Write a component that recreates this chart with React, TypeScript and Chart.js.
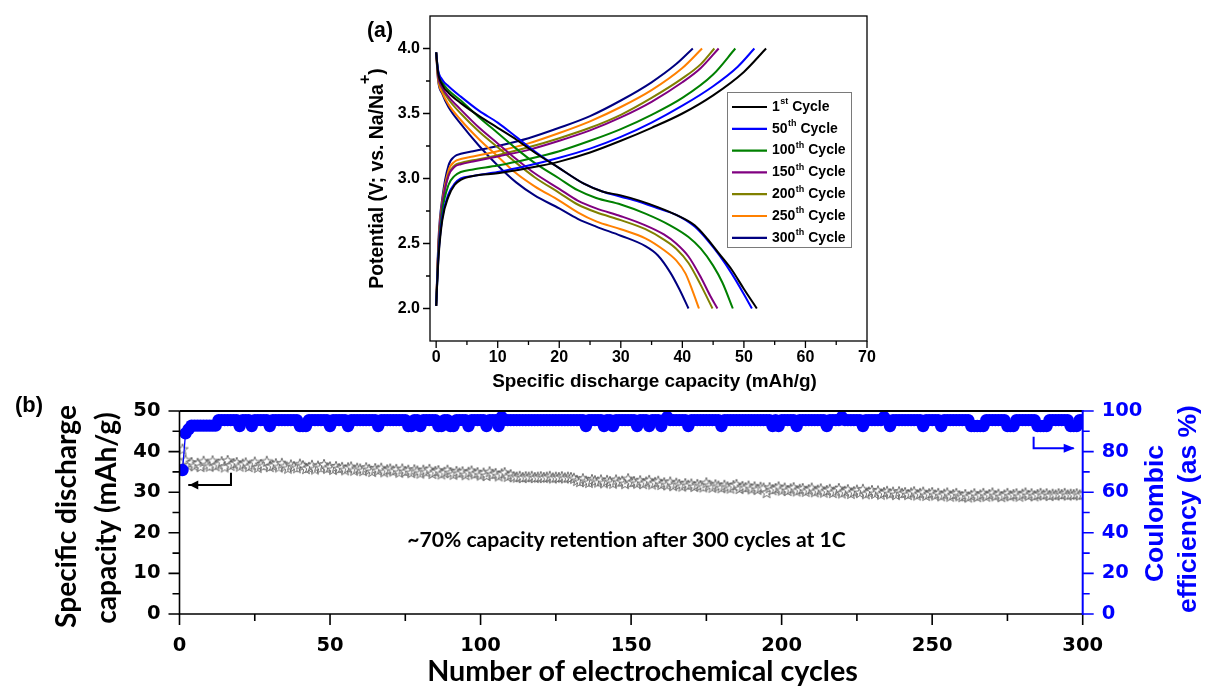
import React, { useEffect, useRef } from 'react';
import { Chart, registerables } from 'chart.js';

Chart.register(...registerables);

/* ================= Panel (a): charge / discharge profiles ================= */
const profileCycleNumbers = ['1', '50', '100', '150', '200', '250', '300'];
const profileSuffixes = ['st', 'th', 'th', 'th', 'th', 'th', 'th'];
const profileColors = ['#000000', '#0000ff', '#008000', '#800080', '#808000', '#ff8000', '#000080'];

// [specific capacity (mAh/g), potential (V)]
const charge1st = [[0, 2.02], [0.4, 2.4], [1, 2.68], [2, 2.86], [3, 2.95], [4, 2.99], [6, 3.02], [10, 3.04], [15, 3.08], [20, 3.13], [25, 3.2], [30, 3.29], [35, 3.39], [40, 3.5], [45, 3.64], [50, 3.82], [53.6, 4.0]];
const charge50th = [[0, 2.02], [0.4, 2.42], [1, 2.7], [2, 2.88], [3, 2.96], [4, 3.0], [6, 3.02], [10, 3.05], [15, 3.1], [20, 3.16], [25, 3.23], [30, 3.32], [35, 3.43], [40, 3.56], [45, 3.71], [49, 3.86], [51.7, 4.0]];
const charge100th = [[0, 2.02], [0.4, 2.45], [1, 2.75], [2, 2.95], [3, 3.02], [4, 3.05], [6, 3.07], [10, 3.1], [15, 3.15], [20, 3.21], [25, 3.29], [30, 3.38], [35, 3.49], [40, 3.62], [45, 3.8], [48.6, 4.0]];
const charge150th = [[0, 2.02], [0.4, 2.5], [1, 2.8], [2, 3.02], [3, 3.09], [4, 3.11], [6, 3.13], [10, 3.17], [15, 3.22], [20, 3.29], [25, 3.37], [30, 3.47], [35, 3.59], [40, 3.74], [43, 3.85], [45.9, 4.0]];
const charge200th = [[0, 2.02], [0.4, 2.5], [1, 2.8], [2, 3.03], [3, 3.1], [4, 3.12], [6, 3.14], [10, 3.18], [15, 3.24], [20, 3.31], [25, 3.39], [30, 3.49], [35, 3.62], [40, 3.77], [43, 3.88], [45.2, 4.0]];
const charge250th = [[0, 2.02], [0.4, 2.52], [1, 2.82], [2, 3.06], [3, 3.13], [4, 3.15], [6, 3.17], [10, 3.21], [15, 3.27], [20, 3.35], [25, 3.44], [30, 3.55], [35, 3.68], [40, 3.85], [43.2, 4.0]];
const charge300th = [[0, 2.02], [0.4, 2.55], [1, 2.85], [2, 3.1], [3, 3.17], [4, 3.19], [6, 3.21], [10, 3.25], [15, 3.31], [20, 3.39], [25, 3.48], [30, 3.6], [35, 3.74], [39, 3.88], [41.7, 4.0]];

const discharge1st = [[0, 3.97], [0.3, 3.82], [1, 3.72], [2, 3.66], [4, 3.58], [7, 3.48], [10, 3.39], [13, 3.3], [16, 3.2], [20, 3.08], [24, 2.96], [27, 2.9], [30, 2.87], [33, 2.83], [36, 2.78], [39, 2.72], [42, 2.64], [44, 2.54], [46, 2.42], [48, 2.3], [50, 2.15], [52.1, 2.0]];
const discharge50th = [[0, 3.97], [0.3, 3.84], [1, 3.76], [2, 3.71], [4, 3.63], [7, 3.52], [10, 3.43], [13, 3.32], [16, 3.21], [20, 3.08], [24, 2.96], [27, 2.9], [30, 2.86], [33, 2.82], [36, 2.77], [39, 2.72], [42, 2.63], [44, 2.53], [46, 2.41], [48, 2.27], [50, 2.11], [51.3, 2.0]];
const discharge100th = [[0, 3.97], [0.3, 3.83], [1, 3.74], [2, 3.68], [4, 3.6], [7, 3.47], [10, 3.35], [13, 3.23], [16, 3.12], [20, 3.0], [23, 2.91], [26, 2.85], [30, 2.8], [34, 2.73], [38, 2.64], [41, 2.55], [43, 2.46], [45, 2.33], [46.5, 2.2], [48.2, 2.0]];
const discharge150th = [[0, 3.97], [0.3, 3.8], [1, 3.7], [2, 3.63], [4, 3.53], [7, 3.39], [10, 3.27], [13, 3.15], [16, 3.04], [20, 2.92], [23, 2.83], [26, 2.77], [30, 2.71], [34, 2.64], [37, 2.57], [39, 2.5], [41, 2.4], [43, 2.24], [44.5, 2.1], [45.7, 2.0]];
const discharge200th = [[0, 3.97], [0.3, 3.79], [1, 3.69], [2, 3.61], [4, 3.5], [7, 3.36], [10, 3.24], [13, 3.12], [16, 3.01], [20, 2.89], [23, 2.8], [26, 2.74], [30, 2.68], [34, 2.61], [37, 2.53], [39, 2.46], [41, 2.35], [43, 2.18], [44.9, 2.0]];
const discharge250th = [[0, 3.97], [0.3, 3.77], [1, 3.66], [2, 3.57], [4, 3.45], [7, 3.3], [10, 3.17], [13, 3.04], [16, 2.94], [20, 2.83], [23, 2.74], [26, 2.67], [30, 2.61], [34, 2.54], [37, 2.45], [39, 2.37], [40.5, 2.27], [41.7, 2.13], [42.7, 2.0]];
const discharge300th = [[0, 3.97], [0.3, 3.76], [1, 3.65], [2, 3.55], [4, 3.42], [7, 3.25], [10, 3.1], [13, 2.97], [16, 2.87], [20, 2.77], [23, 2.69], [26, 2.63], [30, 2.56], [34, 2.48], [36, 2.41], [38, 2.28], [39.5, 2.15], [41, 2.0]];

const chargeCurves = [charge1st, charge50th, charge100th, charge150th, charge200th, charge250th, charge300th];
const dischargeCurves = [discharge1st, discharge50th, discharge100th, discharge150th, discharge200th, discharge250th, discharge300th];

const xTicksA = [0, 10, 20, 30, 40, 50, 60, 70];
const xMinorA = [5, 15, 25, 35, 45, 55, 65];
const yTicksA = [2.0, 2.5, 3.0, 3.5, 4.0];
const yMinorA = [2.25, 2.75, 3.25, 3.75];

/* ================= Panel (b): cycling ================= */
const dischargeCapacity = [
  40.5, 37.8, 36.5, 37.2, 36.4, 37.0, 36.2, 37.5, 36.6, 36.3,
  37.6, 36.4, 36.8, 37.4, 36.1, 37.7, 36.5, 36.9, 37.2, 36.3,
  36.8, 37.1, 36.2, 36.6, 37.3, 36.0, 36.7, 36.4, 37.5, 36.2,
  36.5, 36.9, 36.1, 37.0, 36.3, 35.8, 36.6, 36.2, 35.9, 36.8,
  36.4, 35.7, 36.0, 36.5, 35.6, 36.3, 35.9, 36.7, 35.8, 36.1,
  35.5, 36.2, 35.7, 36.0, 35.4, 35.9, 36.1, 35.3, 35.8, 35.6,
  35.2, 35.9, 35.5, 35.0, 35.7, 35.3, 35.8, 34.9, 35.4, 35.6,
  35.1, 35.5, 34.8, 35.6, 35.0, 35.3, 34.7, 35.4, 35.1, 34.6,
  35.3, 34.9, 35.5, 34.5, 35.0, 35.2, 34.4, 34.8, 35.3, 34.7,
  34.3, 35.0, 34.6, 34.9, 34.2, 34.8, 35.1, 34.4, 34.7, 34.1,
  34.6, 34.0, 34.9, 34.3, 34.5, 33.9, 34.4, 34.7, 33.8, 34.2,
  33.7, 33.6, 33.8, 33.5, 33.7, 33.6, 33.8, 33.5, 33.6, 33.7,
  33.5, 33.6, 33.8, 33.4, 33.6, 33.5, 33.7, 33.4, 33.6, 33.5,
  33.3, 32.8, 32.5, 33.2, 32.6, 32.3, 33.0, 32.7, 32.4, 32.9,
  32.2, 32.8, 32.5, 32.1, 32.9, 32.4, 32.6, 32.0, 33.2, 32.3,
  32.5, 32.1, 32.7, 32.0, 32.4, 32.8, 31.9, 32.3, 32.6, 31.8,
  32.2, 31.7, 32.4, 31.5, 32.1, 31.8, 31.4, 32.0, 31.6, 31.9,
  31.3, 31.8, 31.5, 31.2, 32.2, 31.6, 31.1, 31.7, 31.4, 31.0,
  31.6, 31.2, 30.9, 31.5, 31.8, 30.8, 31.3, 31.0, 31.4, 30.7,
  31.2, 30.6, 31.1, 30.9, 29.8, 31.0, 30.5, 30.8, 31.2, 30.4,
  30.9, 30.3, 30.7, 31.0, 30.2, 30.6, 30.8, 30.1, 30.5, 30.9,
  30.0, 30.4, 30.7, 29.9, 30.3, 30.6, 29.8, 30.2, 30.8, 29.7,
  30.1, 30.5, 29.6, 30.0, 30.4, 29.8, 30.6, 29.5, 29.9, 30.3,
  29.6, 30.2, 29.4, 29.8, 30.1, 29.5, 29.9, 29.3, 30.0, 29.6,
  29.8, 29.3, 29.7, 30.0, 29.2, 29.6, 29.9, 29.1, 29.5, 29.8,
  29.2, 29.6, 29.0, 29.4, 29.7, 28.9, 29.3, 29.6, 29.0, 28.8,
  29.3, 28.7, 29.1, 29.5, 28.8, 29.2, 29.6, 28.9, 29.3, 29.7,
  29.0, 29.4, 28.8, 29.2, 29.6, 29.0, 29.3, 29.5, 28.9, 29.4,
  29.7, 29.1, 29.5, 29.0, 29.3, 29.6, 29.2, 29.5, 29.1, 29.4,
  29.2, 29.5, 29.3, 29.6, 29.2, 29.4, 29.3, 29.5, 29.2, 29.4,
];

const coulombicEfficiency = [
  70.9, 89.0, 91.0, 92.8, 92.8, 92.8, 92.8, 92.8, 92.8, 92.8,
  92.8, 92.8, 95.5, 95.5, 95.5, 95.5, 95.5, 95.5, 95.5, 92.6,
  95.5, 95.5, 95.5, 92.6, 95.5, 95.5, 95.5, 95.5, 95.5, 92.6,
  95.5, 95.5, 95.5, 95.5, 95.5, 95.5, 95.5, 95.5, 95.5, 92.6,
  92.6, 92.6, 95.5, 95.5, 95.5, 95.5, 95.5, 95.5, 95.5, 92.6,
  95.5, 95.5, 95.5, 95.5, 95.5, 92.6, 95.5, 95.5, 95.5, 95.5,
  95.5, 95.5, 95.5, 95.5, 95.5, 92.6, 95.5, 95.5, 95.5, 95.5,
  95.5, 95.5, 95.5, 95.5, 95.5, 92.6, 92.6, 95.5, 95.5, 92.6,
  95.5, 95.5, 95.5, 95.5, 95.5, 92.6, 92.6, 95.5, 95.5, 92.6,
  92.6, 95.5, 95.5, 95.5, 95.5, 92.6, 95.5, 95.5, 95.5, 95.5,
  95.5, 92.6, 95.5, 95.5, 95.5, 92.6, 97.0, 95.5, 95.5, 95.5,
  95.5, 95.5, 95.5, 95.5, 95.5, 95.5, 95.5, 95.5, 95.5, 95.5,
  95.5, 95.5, 95.5, 95.5, 95.5, 95.5, 95.5, 95.5, 95.5, 95.5,
  95.5, 95.5, 95.5, 95.5, 92.6, 95.5, 95.5, 95.5, 95.5, 95.5,
  92.6, 95.5, 95.5, 92.6, 95.5, 95.5, 95.5, 95.5, 95.5, 95.5,
  95.5, 92.6, 95.5, 95.5, 95.5, 92.6, 95.5, 95.5, 95.5, 92.6,
  95.5, 97.0, 95.5, 95.5, 95.5, 95.5, 95.5, 95.5, 92.6, 95.5,
  95.5, 95.5, 95.5, 95.5, 95.5, 95.5, 95.5, 95.5, 95.5, 92.6,
  95.5, 95.5, 95.5, 95.5, 95.5, 95.5, 95.5, 95.5, 95.5, 95.5,
  95.5, 95.5, 95.5, 95.5, 95.5, 95.5, 92.6, 95.5, 92.6, 95.5,
  95.5, 95.5, 95.5, 95.5, 92.6, 95.5, 95.5, 95.5, 95.5, 95.5,
  95.5, 95.5, 95.5, 95.5, 92.6, 95.5, 95.5, 95.5, 95.5, 97.0,
  95.5, 95.5, 95.5, 95.5, 95.5, 95.5, 92.6, 95.5, 95.5, 95.5,
  95.5, 95.5, 95.5, 97.0, 95.5, 92.6, 95.5, 95.5, 95.5, 95.5,
  95.5, 95.5, 95.5, 95.5, 95.5, 95.5, 92.6, 95.5, 95.5, 95.5,
  95.5, 95.5, 92.6, 95.5, 95.5, 95.5, 95.5, 95.5, 95.5, 95.5,
  95.5, 95.5, 92.6, 92.6, 92.6, 92.6, 92.6, 95.5, 95.5, 95.5,
  95.5, 95.5, 95.5, 95.5, 92.6, 92.6, 92.6, 95.5, 95.5, 95.5,
  95.5, 95.5, 95.5, 95.5, 92.6, 92.6, 92.6, 92.6, 95.5, 95.5,
  95.5, 95.5, 95.5, 95.5, 95.5, 92.6, 92.6, 92.6, 95.5, 95.5,
];

const xTicksB = [0, 50, 100, 150, 200, 250, 300];
const xMinorB = [25, 75, 125, 175, 225, 275];
const yTicksLeftB = [0, 10, 20, 30, 40, 50];
const yMinorLeftB = [5, 15, 25, 35, 45];
const yTicksRightB = [0, 20, 40, 60, 80, 100];
const yMinorRightB = [10, 30, 50, 70, 90];

// annotation arrows, in data units: [cycle, value]
const capacityArrow = [[17.1, 34.8], [17.1, 31.8], [2.9, 31.8]];
const efficiencyArrow = [[283.7, 87.3], [283.7, 81.6], [297.0, 81.6]];

/* ================= helpers ================= */
const ARIAL = 'Liberation Sans';
const CALIBRI = 'Lato';
const BLUE = '#0000ff';

function fontStr(size: number, family: string) {
  return `bold ${size}px "${family}"`;
}
function fitSize(ctx: CanvasRenderingContext2D, text: string, family: string, target: number) {
  ctx.font = fontStr(100, family);
  return (100 * target) / ctx.measureText(text).width;
}
function drawText(ctx: CanvasRenderingContext2D, text: string, x: number, y: number, size: number, family: string, color: string, align: CanvasTextAlign = 'center', rotate = false) {
  ctx.save();
  ctx.translate(x, y);
  if (rotate) ctx.rotate(-Math.PI / 2);
  ctx.font = fontStr(size, family);
  ctx.fillStyle = color;
  ctx.textAlign = align;
  ctx.textBaseline = 'alphabetic';
  ctx.fillText(text, 0, 0);
  ctx.restore();
}
function drawArrow(ctx: CanvasRenderingContext2D, pts: number[][], color: string) {
  ctx.save();
  ctx.strokeStyle = color;
  ctx.fillStyle = color;
  ctx.lineWidth = 2;
  ctx.beginPath();
  pts.forEach((p, i) => (i === 0 ? ctx.moveTo(p[0], p[1]) : ctx.lineTo(p[0], p[1])));
  ctx.stroke();
  const a = pts[pts.length - 2];
  const b = pts[pts.length - 1];
  const ang = Math.atan2(b[1] - a[1], b[0] - a[0]);
  const L = 10;
  const H = 4.5;
  ctx.beginPath();
  ctx.moveTo(b[0] + 1, b[1]);
  ctx.lineTo(b[0] - L * Math.cos(ang) + H * Math.sin(ang), b[1] - L * Math.sin(ang) - H * Math.cos(ang));
  ctx.lineTo(b[0] - L * Math.cos(ang) - H * Math.sin(ang), b[1] - L * Math.sin(ang) + H * Math.cos(ang));
  ctx.closePath();
  ctx.fill();
  ctx.restore();
}
function makeStar(r: number) {
  const size = Math.ceil(r * 2 + 2);
  const c = document.createElement('canvas');
  c.width = size;
  c.height = size;
  const ctx = c.getContext('2d')!;
  const cx = size / 2;
  const cy = size / 2;
  ctx.beginPath();
  for (let i = 0; i < 10; i++) {
    const rad = i % 2 === 0 ? r : r * 0.42;
    const a = -Math.PI / 2 + (i * Math.PI) / 5;
    ctx.lineTo(cx + rad * Math.cos(a), cy + rad * Math.sin(a));
  }
  ctx.closePath();
  ctx.fillStyle = '#ffffff';
  ctx.fill();
  ctx.strokeStyle = '#4a4a4a';
  ctx.lineWidth = 0.8;
  ctx.stroke();
  return c;
}
const setTicks = (vals: number[]) => (s: any) => {
  s.ticks = vals.map((v) => ({ value: v }));
};
const fixWidth = (w: number) => (s: any) => {
  s.width = w;
  s.paddingTop = 0;
  s.paddingBottom = 0;
};
const fixHeight = (h: number) => (s: any) => {
  s.height = h;
  s.paddingLeft = 0;
  s.paddingRight = 0;
};

/* ================= panel (a) plugin ================= */
const panelAPlugin = {
  id: 'panelADecor',
  afterDraw(chart: any) {
    const { ctx, chartArea: ca, scales } = chart;
    const xs = scales.x;
    const ys = scales.y;
    ctx.save();
    ctx.strokeStyle = '#000';
    ctx.lineWidth = 1.3;
    ctx.strokeRect(ca.left, ca.top, ca.right - ca.left, ca.bottom - ca.top);
    ctx.beginPath();
    xTicksA.forEach((v) => { const p = xs.getPixelForValue(v); ctx.moveTo(p, ca.bottom); ctx.lineTo(p, ca.bottom + 7); });
    xMinorA.forEach((v) => { const p = xs.getPixelForValue(v); ctx.moveTo(p, ca.bottom); ctx.lineTo(p, ca.bottom + 4); });
    yTicksA.forEach((v) => { const p = ys.getPixelForValue(v); ctx.moveTo(ca.left, p); ctx.lineTo(ca.left - 7, p); });
    yMinorA.forEach((v) => { const p = ys.getPixelForValue(v); ctx.moveTo(ca.left, p); ctx.lineTo(ca.left - 4, p); });
    ctx.stroke();
    ctx.restore();

    // (a)
    const fa = fitSize(ctx, '(a)', ARIAL, 26);
    drawText(ctx, '(a)', ca.left - 63, 37, fa, ARIAL, '#000', 'left');

    // x title
    const xt = 'Specific discharge capacity (mAh/g)';
    const fx = fitSize(ctx, xt, ARIAL, 325);
    drawText(ctx, xt, (ca.left + ca.right) / 2 + 6, ca.bottom + 45.5, fx, ARIAL, '#000');

    // y title with superscript
    const p1 = 'Potential (V; vs. Na/Na';
    const p3 = ')';
    const fy = fitSize(ctx, p1 + p3, ARIAL, 211);
    ctx.save();
    ctx.translate(ca.left - 47.5, (ca.top + ca.bottom) / 2);
    ctx.rotate(-Math.PI / 2);
    ctx.fillStyle = '#000';
    ctx.textAlign = 'left';
    ctx.textBaseline = 'alphabetic';
    ctx.font = fontStr(fy, ARIAL);
    const w1 = ctx.measureText(p1).width;
    const w3 = ctx.measureText(p3).width;
    ctx.font = fontStr(fy * 0.85, ARIAL);
    const w2 = ctx.measureText('+').width;
    const start = -(w1 + w2 + w3) / 2;
    ctx.font = fontStr(fy, ARIAL);
    ctx.fillText(p1, start, 0);
    ctx.font = fontStr(fy * 0.85, ARIAL);
    ctx.fillText('+', start + w1, -fy * 0.62);
    ctx.font = fontStr(fy, ARIAL);
    ctx.fillText(p3, start + w1 + w2, 0);
    ctx.restore();

    // legend
    const bx = ca.right - 140;
    const by = ca.top + 76;
    ctx.save();
    ctx.fillStyle = '#fff';
    ctx.fillRect(bx, by, 124, 155);
    ctx.strokeStyle = '#7a7a7a';
    ctx.lineWidth = 1;
    ctx.strokeRect(bx + 0.5, by + 0.5, 124, 155);
    profileCycleNumbers.forEach((n, i) => {
      const y = by + 15 + i * 21.8;
      ctx.strokeStyle = profileColors[i];
      ctx.lineWidth = 2.2;
      ctx.beginPath();
      ctx.moveTo(bx + 5, y);
      ctx.lineTo(bx + 40, y);
      ctx.stroke();
      ctx.fillStyle = '#000';
      ctx.textAlign = 'left';
      ctx.textBaseline = 'middle';
      ctx.font = fontStr(14, ARIAL);
      let x = bx + 45;
      ctx.fillText(n, x, y);
      x += ctx.measureText(n).width;
      ctx.font = fontStr(9, ARIAL);
      ctx.fillText(profileSuffixes[i], x + 0.5, y - 5);
      x += ctx.measureText(profileSuffixes[i]).width + 0.5;
      ctx.font = fontStr(14, ARIAL);
      ctx.fillText(' Cycle', x, y);
    });
    ctx.restore();
  },
};

/* ================= panel (b) plugin ================= */
const panelBPlugin = {
  id: 'panelBDecor',
  afterDraw(chart: any) {
    const { ctx, chartArea: ca, scales } = chart;
    const xs = scales.x;
    const yl = scales.y;
    const yr = scales.y2;
    ctx.save();
    // frame
    ctx.lineWidth = 2;
    ctx.strokeStyle = '#000';
    ctx.beginPath();
    ctx.moveTo(ca.left, ca.top);
    ctx.lineTo(ca.right, ca.top);
    ctx.stroke();
    ctx.lineWidth = 1.6;
    ctx.beginPath();
    ctx.moveTo(ca.left, ca.top);
    ctx.lineTo(ca.left, ca.bottom);
    ctx.lineTo(ca.right, ca.bottom);
    ctx.stroke();
    ctx.beginPath();
    xTicksB.forEach((v) => { const p = xs.getPixelForValue(v); ctx.moveTo(p, ca.bottom); ctx.lineTo(p, ca.bottom + 11); });
    xMinorB.forEach((v) => { const p = xs.getPixelForValue(v); ctx.moveTo(p, ca.bottom); ctx.lineTo(p, ca.bottom + 7); });
    yTicksLeftB.forEach((v) => { const p = yl.getPixelForValue(v); ctx.moveTo(ca.left, p); ctx.lineTo(ca.left - 11, p); });
    yMinorLeftB.forEach((v) => { const p = yl.getPixelForValue(v); ctx.moveTo(ca.left, p); ctx.lineTo(ca.left - 7, p); });
    ctx.stroke();
    ctx.strokeStyle = BLUE;
    ctx.lineWidth = 2;
    ctx.beginPath();
    ctx.moveTo(ca.right, ca.top - 1);
    ctx.lineTo(ca.right, ca.bottom + 1);
    ctx.stroke();
    ctx.lineWidth = 1.6;
    ctx.beginPath();
    yTicksRightB.forEach((v) => { const p = yr.getPixelForValue(v); ctx.moveTo(ca.right, p); ctx.lineTo(ca.right + 11, p); });
    yMinorRightB.forEach((v) => { const p = yr.getPixelForValue(v); ctx.moveTo(ca.right, p); ctx.lineTo(ca.right + 7, p); });
    ctx.stroke();
    ctx.restore();

    // arrows
    drawArrow(ctx, capacityArrow.map((p) => [xs.getPixelForValue(p[0]), yl.getPixelForValue(p[1])]), '#000');
    drawArrow(ctx, efficiencyArrow.map((p) => [xs.getPixelForValue(p[0]), yr.getPixelForValue(p[1])]), BLUE);

    // (b)
    const fb = fitSize(ctx, '(b)', ARIAL, 28);
    drawText(ctx, '(b)', 15, ca.top + 1, fb, ARIAL, '#000', 'left');

    // left title (two lines)
    const l1 = 'Specific discharge';
    const l2 = 'capacity (mAh/g)';
    const fl = fitSize(ctx, l1, CALIBRI, 223);
    const cy = (ca.top + ca.bottom) / 2;
    drawText(ctx, l1, 76, cy + 4, fl, CALIBRI, '#000', 'center', true);
    drawText(ctx, l2, 115.5, cy + 5.5, fl, CALIBRI, '#000', 'center', true);

    // right title (two lines)
    const r1 = 'Coulombic';
    const r2 = 'efficiency (as %)';
    const fr = fitSize(ctx, r2, ARIAL, 208);
    drawText(ctx, r1, 1163, cy + 1, fr, ARIAL, BLUE, 'center', true);
    drawText(ctx, r2, 1196, cy - 3.5, fr, ARIAL, BLUE, 'center', true);

    // x title
    const xt = 'Number of electrochemical cycles';
    const fx = fitSize(ctx, xt, CALIBRI, 431);
    drawText(ctx, xt, 642.5, ca.bottom + 66.7, fx, CALIBRI, '#000');

    // annotation
    const an = '~70% capacity retention after 300 cycles at 1C';
    const fan = fitSize(ctx, an, CALIBRI, 439);
    drawText(ctx, an, 626.5, ca.top + 135.7, fan, CALIBRI, '#000');
  },
};

export default function App() {
  const refA = useRef<HTMLCanvasElement>(null);
  const refB = useRef<HTMLCanvasElement>(null);

  useEffect(() => {
    const tickFontA = { family: ARIAL, weight: 'bold' as const, size: 16 };
    const datasetsA: any[] = [];
    chargeCurves.forEach((curve, i) => {
      datasetsA.push({
        label: `${profileCycleNumbers[i]} charge`,
        data: curve.map((p) => ({ x: p[0], y: p[1] })),
        borderColor: profileColors[i],
        borderWidth: 2,
        pointRadius: 0,
        fill: false,
        cubicInterpolationMode: 'monotone',
      });
      datasetsA.push({
        label: `${profileCycleNumbers[i]} discharge`,
        data: dischargeCurves[i].map((p) => ({ x: p[0], y: p[1] })),
        borderColor: profileColors[i],
        borderWidth: 2,
        pointRadius: 0,
        fill: false,
        cubicInterpolationMode: 'monotone',
      });
    });

    const chartA = new Chart(refA.current!, {
      type: 'line',
      data: { datasets: datasetsA },
      options: {
        responsive: false,
        animation: false,
        events: [],
        devicePixelRatio: 1,
        layout: { padding: { left: 0, right: 33, top: 16, bottom: 0 } },
        plugins: { legend: { display: false }, tooltip: { enabled: false } },
        scales: {
          x: {
            type: 'linear',
            min: -1,
            max: 70,
            afterBuildTicks: setTicks(xTicksA),
            afterFit: fixHeight(59),
            grid: { display: false, drawTicks: true, tickLength: 7 },
            border: { display: false },
            ticks: { font: tickFontA, color: '#000', padding: 0, maxRotation: 0, autoSkip: false },
          },
          y: {
            type: 'linear',
            min: 1.75,
            max: 4.25,
            afterBuildTicks: setTicks(yTicksA),
            afterFit: fixWidth(90),
            grid: { display: false, drawTicks: true, tickLength: 7 },
            border: { display: false },
            ticks: {
              font: tickFontA,
              color: '#000',
              padding: 3,
              autoSkip: false,
              callback: (v: any) => Number(v).toFixed(1),
            },
          },
        },
      } as any,
      plugins: [panelAPlugin],
    });

    const star = makeStar(5.8);
    const tickFontB = { family: 'DejaVu Sans', weight: 'bold' as const, size: 19.5 };
    const chartB = new Chart(refB.current!, {
      type: 'line',
      data: {
        datasets: [
          {
            label: 'Coulombic efficiency',
            data: coulombicEfficiency.map((v, i) => ({ x: i + 1, y: v })),
            yAxisID: 'y2',
            showLine: true,
            borderColor: BLUE,
            borderWidth: 1.3,
            pointRadius: 6.2,
            pointStyle: 'circle',
            pointBackgroundColor: BLUE,
            pointBorderWidth: 0,
            clip: 0,
          },
          {
            label: 'Specific discharge capacity',
            data: dischargeCapacity.map((v, i) => ({ x: i + 1, y: v })),
            yAxisID: 'y',
            showLine: false,
            pointStyle: star,
            pointRadius: 6,
            clip: 0,
          },
        ],
      },
      options: {
        responsive: false,
        animation: false,
        events: [],
        devicePixelRatio: 1,
        layout: { padding: { left: 0, right: 0, top: 26, bottom: 0 } },
        plugins: { legend: { display: false }, tooltip: { enabled: false } },
        scales: {
          x: {
            type: 'linear',
            min: 0,
            max: 300,
            afterBuildTicks: setTicks(xTicksB),
            afterFit: fixHeight(72),
            grid: { display: false, drawTicks: true, tickLength: 11 },
            border: { display: false },
            ticks: { font: tickFontB, color: '#000', padding: 9, maxRotation: 0, autoSkip: false },
          },
          y: {
            type: 'linear',
            position: 'left',
            min: 0,
            max: 50,
            afterBuildTicks: setTicks(yTicksLeftB),
            afterFit: fixWidth(179.5),
            grid: { display: false, drawTicks: true, tickLength: 11 },
            border: { display: false },
            ticks: { font: tickFontB, color: '#000', padding: 8, autoSkip: false },
          },
          y2: {
            type: 'linear',
            position: 'right',
            min: 0,
            max: 100,
            afterBuildTicks: setTicks(yTicksRightB),
            afterFit: fixWidth(123.3),
            grid: { display: false, drawTicks: true, tickLength: 11 },
            border: { display: false },
            ticks: { font: tickFontB, color: BLUE, padding: 8, autoSkip: false },
          },
        },
      } as any,
      plugins: [panelBPlugin],
    });

    return () => {
      chartA.destroy();
      chartB.destroy();
    };
  }, []);

  return (
    <div style={{ position: 'absolute', left: 0, top: 0, width: 1206, height: 686, background: '#fff', overflow: 'hidden' }}>
      <canvas ref={refA} width={560} height={400} style={{ position: 'absolute', left: 340, top: 0, width: 560, height: 400 }} />
      <canvas ref={refB} width={1206} height={301} style={{ position: 'absolute', left: 0, top: 385, width: 1206, height: 301 }} />
    </div>
  );
}
